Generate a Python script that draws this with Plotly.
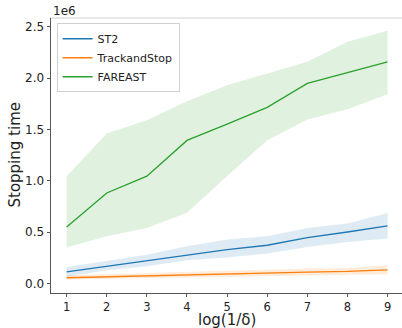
import plotly.graph_objects as go

x = [1, 2, 3, 4, 5, 6, 7, 8, 9]

st2_mean = [0.113, 0.168, 0.227, 0.282, 0.331, 0.373, 0.448, 0.502, 0.561]
st2_low = [0.066, 0.13, 0.168, 0.227, 0.253, 0.292, 0.356, 0.405, 0.438]
st2_high = [0.162, 0.22, 0.28, 0.363, 0.428, 0.46, 0.541, 0.584, 0.688]

tas_mean = [0.057, 0.067, 0.077, 0.088, 0.098, 0.106, 0.112, 0.118, 0.134]
tas_low = [0.04, 0.045, 0.052, 0.062, 0.07, 0.078, 0.082, 0.085, 0.092]
tas_high = [0.08, 0.092, 0.104, 0.118, 0.13, 0.14, 0.148, 0.152, 0.178]

far_mean = [0.551, 0.882, 1.045, 1.393, 1.551, 1.714, 1.947, 2.055, 2.158]
far_low = [0.35, 0.46, 0.54, 0.69, 1.048, 1.395, 1.597, 1.697, 1.843]
far_high = [1.045, 1.46, 1.59, 1.775, 1.93, 2.045, 2.158, 2.353, 2.46]

names = ["ST2", "TrackandStop", "FAREAST"]
colors = ["#1f77b4", "#ff7f0e", "#2ca02c"]
fills = ["rgba(31,119,180,0.15)", "rgba(255,127,14,0.15)", "rgba(44,160,44,0.15)"]
scale = 1e6

series = [(st2_mean, st2_low, st2_high), (tas_mean, tas_low, tas_high), (far_mean, far_low, far_high)]

fig = go.Figure()
for (m, lo, hi), name, c, f in zip(series, names, colors, fills):
    fig.add_trace(go.Scatter(
        x=x + x[::-1], y=[v * scale for v in hi] + [v * scale for v in lo[::-1]],
        fill="toself", fillcolor=f, line=dict(width=0), mode="lines",
        showlegend=False, hoverinfo="skip"))
for (m, lo, hi), name, c, f in zip(series, names, colors, fills):
    fig.add_trace(go.Scatter(x=x, y=[v * scale for v in m], mode="lines", name=name,
                             line=dict(color=c, width=1.3)))

font = "DejaVu Sans, sans-serif"
fig.update_layout(
    width=402, height=328,
    margin=dict(l=51, r=0, t=18, b=35, autoexpand=False),
    plot_bgcolor="white", paper_bgcolor="white",
    font=dict(family=font, color="#222", size=12),
    showlegend=True,
    legend=dict(x=0.016, y=0.981, xanchor="left", yanchor="top",
                bordercolor="#d0d0d0", borderwidth=1, bgcolor="rgba(255,255,255,0.8)",
                font=dict(size=11, family=font), tracegroupgap=0, itemwidth=30),
    xaxis=dict(range=[0.61, 9.36], tickvals=x, ticktext=[str(v) for v in x],
               showgrid=False, zeroline=False, showline=True, linecolor="#555", linewidth=1,
               ticks="outside", ticklen=3, tickcolor="#555", tickfont=dict(size=11.5),
               automargin=False),
    yaxis=dict(range=[-0.0915e6, 2.584e6], tickvals=[0, 0.5e6, 1e6, 1.5e6, 2e6, 2.5e6],
               ticktext=["0.0", "0.5", "1.0", "1.5", "2.0", "2.5"],
               showgrid=False, zeroline=False, showline=True, linecolor="#555", linewidth=1,
               ticks="outside", ticklen=3.5, tickcolor="#555", tickfont=dict(size=12),
               automargin=False),
    shapes=[dict(type="line", xref="paper", yref="paper", x0=0, x1=1, y0=1, y1=1,
                 line=dict(color="#d0d0d0", width=1))],
    annotations=[
        dict(text="1e6", xref="paper", yref="paper", x=0, y=1, xanchor="left",
             yanchor="bottom", showarrow=False, font=dict(size=12), yshift=-2),
        dict(text="log(1/δ)", xref="paper", yref="paper", x=0.5, y=0, xanchor="center",
             yanchor="top", showarrow=False, font=dict(size=15), yshift=-16),
        dict(text="Stopping time", xref="paper", yref="paper", x=0, y=0.5, xanchor="right",
             yanchor="middle", showarrow=False, font=dict(size=15), textangle=-90, xshift=-26),
    ],
)
fig.write_html("out.html", config={"displayModeBar": False},
               post_script="document.body.style.margin='0px';")
